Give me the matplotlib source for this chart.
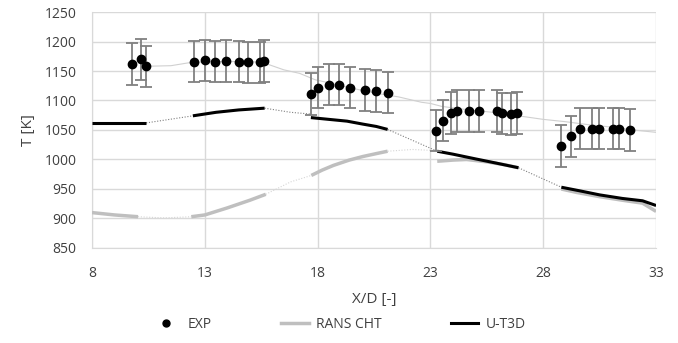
import matplotlib.pyplot as plt
from matplotlib.lines import Line2D

# experimental data
exp_x = [9.76, 10.17, 10.40, 12.51, 13.00, 13.47, 13.93, 14.50, 14.93, 15.45, 15.64,
         17.70, 18.01, 18.49, 18.96, 19.43, 20.08, 20.57, 21.10,
         23.25, 23.56, 23.92, 24.17, 24.70, 25.15, 25.95, 26.19, 26.58, 26.84,
         28.80, 29.22, 29.64, 30.14, 30.48, 31.08, 31.37, 31.85]
exp_t = [1162, 1170, 1158, 1166, 1168, 1166, 1167, 1166, 1165, 1165, 1167,
         1111, 1122, 1127, 1127, 1122, 1118, 1116, 1113,
         1049, 1066, 1079, 1082, 1082, 1082, 1082, 1078, 1077, 1079,
         1023, 1039, 1052, 1052, 1052, 1052, 1052, 1050]
exp_err = 35

# thin grey reference curve through the experiment
ref_x = [10.4, 11.5, 12.3, 13.5, 15.0, 15.6, 16.5, 17.2, 17.9, 18.5, 19.5, 20.5,
         21.6, 22.6, 23.0, 23.5, 24.5, 26.0, 26.9, 28.0, 29.0, 30.0, 31.0, 32.0, 33.0]
ref_t = [1158, 1159, 1164, 1166, 1166, 1164, 1152, 1146, 1135, 1130, 1121, 1113,
         1106, 1097, 1095, 1090, 1085, 1079, 1074, 1068, 1064, 1059, 1055, 1050, 1046]

# RANS CHT solid segments
rans_x = [[8.0, 9.0, 10.04],
          [12.4, 13.0, 14.0, 15.0, 15.7],
          [17.72, 18.2, 18.7, 19.4, 20.0, 20.6, 21.1],
          [23.3, 24.0, 24.6, 25.5, 26.3, 26.9],
          [28.8, 29.5, 30.5, 31.5, 32.4, 33.0]]
rans_t = [[910, 906, 903],
          [903, 906, 918, 931, 941],
          [973, 982, 990, 999, 1005, 1010, 1014],
          [997, 999, 1000, 996, 991, 986],
          [950, 944, 937, 931, 926, 912]]
# RANS CHT dotted gaps
rans_gx = [[10.04, 11.2, 12.4], [15.7, 16.8, 17.72], [21.1, 22.2, 23.3]]
rans_gt = [[903, 901, 903], [941, 962, 973], [1014, 1017, 1015]]

# U-T3D solid segments
ut_x = [[8.0, 9.0, 10.4],
        [12.47, 13.5, 14.5, 15.65],
        [17.7, 18.5, 19.3, 20.0, 20.6, 21.1],
        [23.3, 24.0, 25.0, 25.9, 26.9],
        [28.8, 29.6, 30.5, 31.5, 32.4, 33.0]]
ut_t = [[1062, 1062, 1062],
        [1074, 1080, 1084, 1087],
        [1071, 1068, 1065, 1060, 1056, 1051],
        [1014, 1009, 1001, 994, 986],
        [953, 947, 940, 934, 930, 922]]
ut_gx = [[10.4, 12.47], [15.65, 16.8, 17.7], [21.1, 23.3], [26.9, 28.8]]
ut_gt = [[1062, 1074], [1087, 1080, 1077], [1051, 1014], [986, 953]]

plt.rcParams['font.family'] = ['Open Sans', 'DejaVu Sans']

fig = plt.figure(figsize=(6.78, 3.43), dpi=100)
ax = fig.add_axes([0.1357, 0.277, 0.832, 0.688])

grid_c = '#d9d9d9'
rans_c = '#bfbfbf'

ax.plot(ref_x, ref_t, color='#d0d0d0', lw=0.8, zorder=2)

for gx, gt in zip(rans_gx, rans_gt):
    ax.plot(gx, gt, color='#d6d6d6', lw=0.8, ls=(0, (1, 1.5)), zorder=2)
for sx, st in zip(rans_x, rans_t):
    ax.plot(sx, st, color=rans_c, lw=2.5, solid_capstyle='butt', zorder=3)

for gx, gt in zip(ut_gx, ut_gt):
    ax.plot(gx, gt, color='#808080', lw=0.8, ls=(0, (1, 1.5)), zorder=3)
for sx, st in zip(ut_x, ut_t):
    ax.plot(sx, st, color='black', lw=2.2, solid_capstyle='butt', zorder=4)

ax.errorbar(exp_x, exp_t, yerr=exp_err, fmt='o', color='black', ms=6,
            ecolor='#808080', elinewidth=1.3, capsize=4, capthick=1.3, zorder=5)

ax.set_xlim(8, 33)
ax.set_ylim(850, 1250)
ax.set_xticks(range(8, 34, 5))
ax.set_yticks(range(850, 1251, 50))
ax.grid(True, color=grid_c, lw=1)
ax.set_axisbelow(True)
for s in ['top', 'right']:
    ax.spines[s].set_visible(False)
for s in ['left', 'bottom']:
    ax.spines[s].set_color(grid_c)
ax.tick_params(length=0, labelsize=10, colors='#404040')
ax.tick_params(axis='y', pad=11)
ax.tick_params(axis='x', pad=13)
ax.set_xlabel('X/D [-]', fontsize=11, color='#404040', labelpad=8)
ax.set_ylabel('T [K]', fontsize=11, color='#404040', labelpad=6)

handles = [Line2D([], [], color='black', marker='o', ls='none', ms=5),
           Line2D([], [], color=rans_c, lw=2.5),
           Line2D([], [], color='black', lw=2.2)]
fig.legend(handles, ['EXP', 'RANS CHT', 'U-T3D'], loc='center', ncol=3,
           bbox_to_anchor=(0.5, 0.055), frameon=False, fontsize=10,
           handlelength=2.0, columnspacing=5.0, handletextpad=0.5,
           labelcolor='#404040')

fig.savefig('out.png', dpi=100)
